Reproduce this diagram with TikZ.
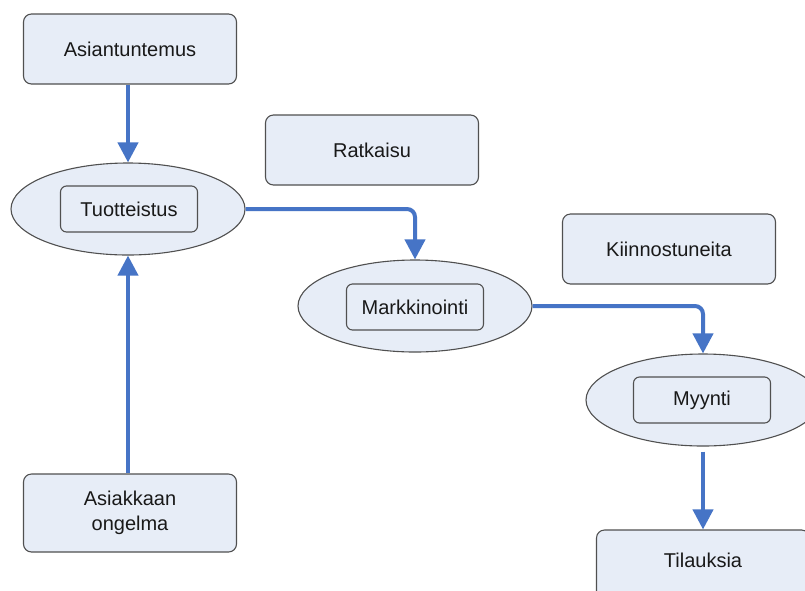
\documentclass[tikz,border=0pt]{standalone}
\usepackage{fontspec}
\setmainfont{Liberation Sans}
\usetikzlibrary{shapes.geometric,arrows.meta}
\definecolor{boxfill}{RGB}{231,237,247}
\definecolor{boxline}{RGB}{80,80,80}
\definecolor{flowblue}{RGB}{70,116,198}
\tikzset{
  lbl/.style={font=\fontsize{20}{24}\selectfont, text=black!90, align=center},
  card/.style={lbl, draw=boxline, line width=1.1pt, fill=boxfill, rounded corners=8pt,
    minimum width=213pt, minimum height=70pt, inner sep=0pt},
  phase/.style={ellipse, draw=boxline, line width=1.1pt, fill=boxfill,
    minimum width=234pt, minimum height=92pt, inner sep=0pt},
  tag/.style={lbl, draw=boxline, line width=1.1pt, rounded corners=6pt,
    minimum width=137pt, minimum height=46pt, inner sep=0pt},
  flow/.style={draw=flowblue, line width=4pt, rounded corners=8pt,
    -{Triangle[width=20pt,length=20pt]}}
}
\begin{document}
\begin{tikzpicture}[x=1pt,y=-1pt]
\clip (0,0) rectangle (805,590);
\fill[white] (0,0) rectangle (805,590);

% source boxes
\node[card] (asi) at (130,49) {Asiantuntemus};
\node[card, minimum height=78pt] (ong) at (130,513) {Asiakkaan\\[1pt]ongelma};
\node[card] (rat) at (372,150) {Ratkaisu};
\node[card] (kii) at (669,249) {Kiinnostuneita};
\node[card, minimum height=74pt] (til) at (703,567) {\raisebox{13pt}{Tilauksia}};

% phases
\node[phase] (tuoE) at (128,209) {};
\node[tag] (tuo) at (129,209) {Tuotteistus};
\node[phase] (marE) at (415,306) {};
\node[tag] (mar) at (415,307) {Markkinointi};
\node[phase] (myyE) at (703,400) {};
\node[tag] (myy) at (702,400) {Myynti};

% flow
\draw[flow] (asi.south -| tuoE.north) -- (tuoE.north);
\draw[flow] (ong.north -| tuoE.south) -- (tuoE.south);
\draw[flow] (tuoE.east) -| (marE.north);
\draw[flow] (marE.east) -| (myyE.north);
\draw[flow, shorten <=5pt] (myyE.south) -- (til.north);
\end{tikzpicture}
\end{document}
